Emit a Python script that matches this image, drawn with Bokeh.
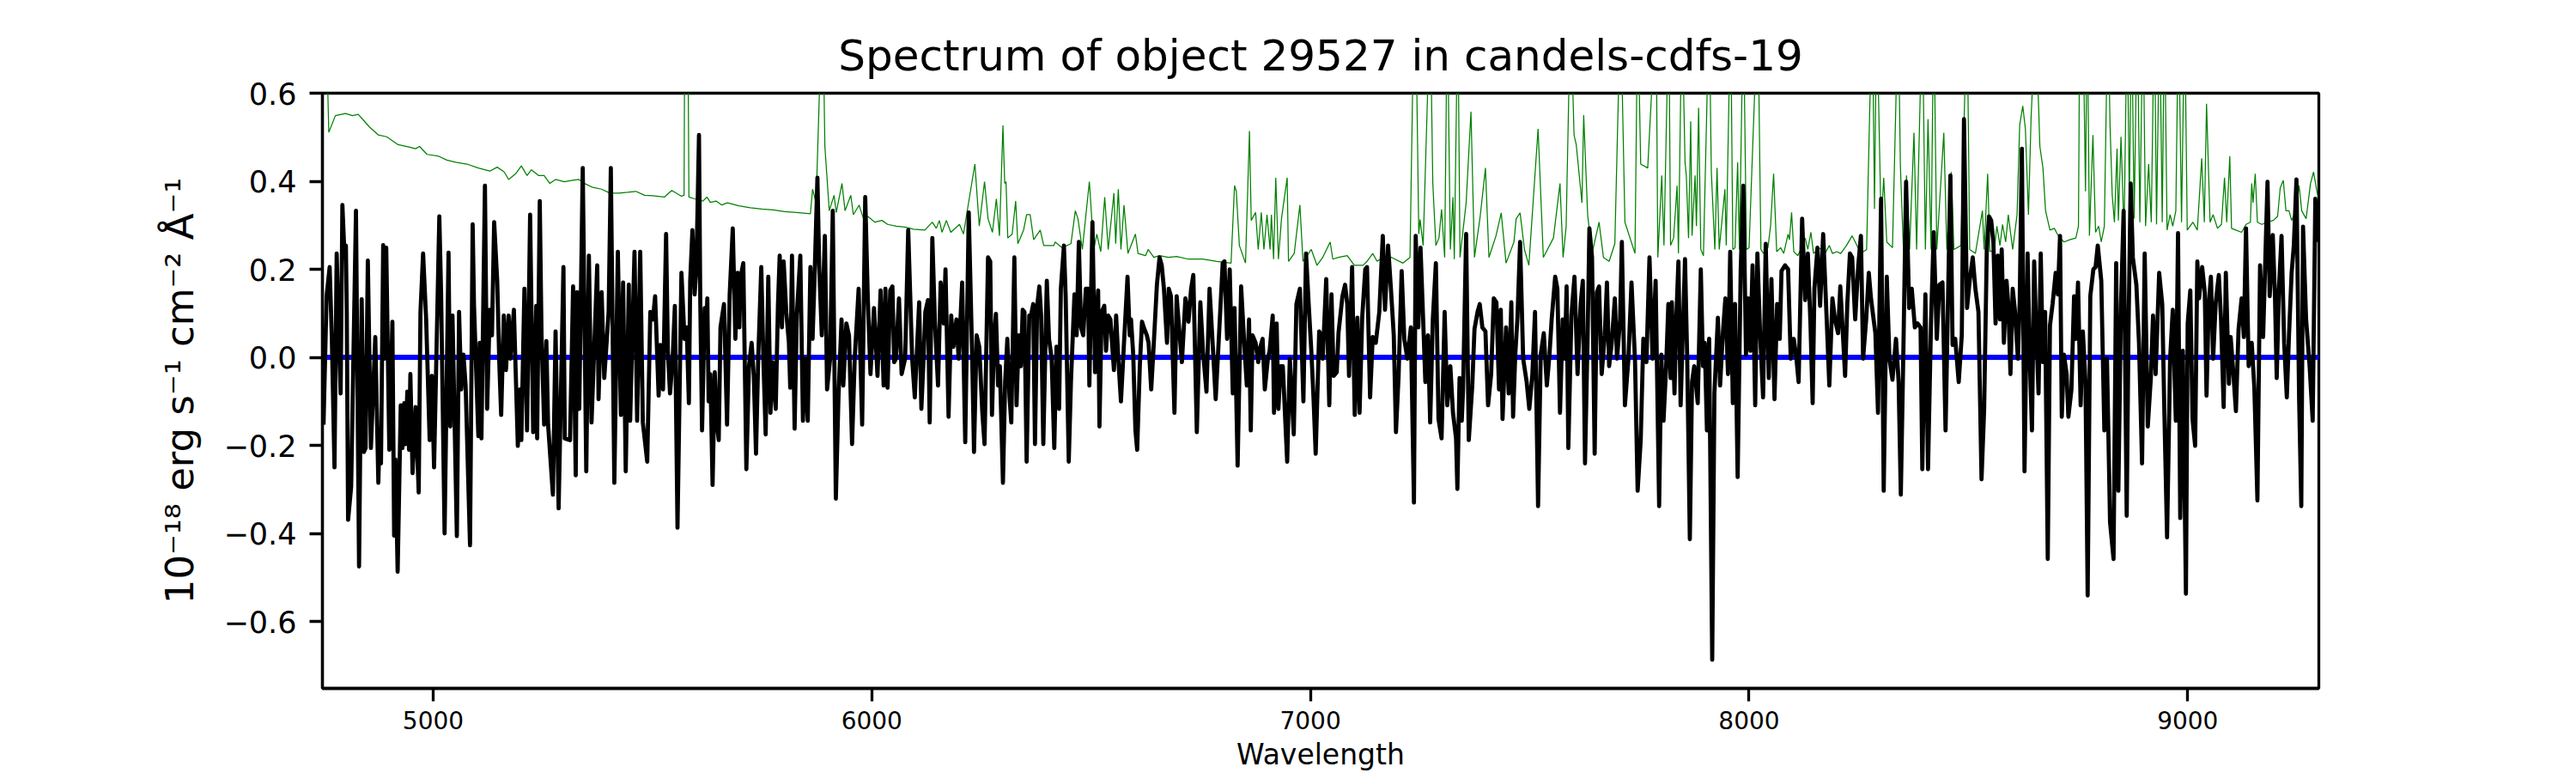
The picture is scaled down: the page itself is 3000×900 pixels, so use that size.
from bokeh.plotting import figure
from bokeh.models import Range1d, FixedTicker, CustomJSTickFormatter
from bokeh.embed import file_html
from bokeh.resources import INLINE

# ---------------- data ----------------
title_text = "Spectrum of object 29527 in candels-cdfs-19"
x_label = "Wavelength"
y_label = "10\u207b\u00b9\u2078 erg s\u207b\u00b9 cm\u207b\u00b2 \u00c5\u207b\u00b9"
x_ticks = [5000, 6000, 7000, 8000, 9000]
y_ticks = [-0.6, -0.4, -0.2, 0.0, 0.2, 0.4, 0.6]
x_limits = [4747.5, 9299.0]
y_limits = [-0.752, 0.6]

# observed flux (black)
flux_wave_1 = [4750,4757,4764,4769,4775,4780,4783,4789,4793,4798,4801,4803,4806,4813,4824,4831,4837,4842,4846,4851,
               4858,4868,4875,4878,4881,4886,4889,4893,4900,4907,4911,4914,4919,4926,4930,4934,4937,4941,4945,4948,
               4953,4960,4967,4971,4977,4984,4992,4997,5002,5014,5018,5026,5035,5039,5044,5050,5054,5059,5064,5069,
               5074,5084,5090,5093,5103,5106,5110,5118,5123,5129,5134,5139,5146,5151,5155,5161,5166,5172,5176,5184,
               5193,5198,5201,5208,5214,5221,5228,5235,5237,5243,5247,5253,5258,5262,5273,5279,5286,5297,5300,5312,
               5319,5325,5328,5333,5341,5349,5355,5361,5374,5377,5384,5390,5400,5405,5413,5421,5428,5433,5439,5446,
               5449,5459,5465,5472,5478,5488,5495]
flux_val_1 = [-0.153,0.139,0.205,0.042,-0.25,0.236,0.121,-0.082,0.346,0.227,0.254,0.103,-0.369,-0.294,0.333,-0.475,0.132,-0.215,-0.206,0.22,
              -0.206,0.046,-0.285,-0.162,-0.241,0.255,-0.003,0.249,-0.21,0.081,-0.405,-0.232,-0.487,-0.109,-0.206,-0.104,-0.197,-0.078,-0.21,-0.038,
              -0.263,-0.113,-0.307,0.103,0.236,0.086,-0.188,-0.042,-0.25,0.32,0.148,-0.40,0.238,-0.157,0.095,-0.206,-0.406,0.103,-0.073,0.006,
              -0.064,-0.427,0.302,0.121,-0.179,0.033,-0.184,0.39,-0.117,0.108,0.05,0.307,0.174,-0.02,-0.131,0.095,-0.029,0.095,-0.003,0.108,
              -0.201,-0.073,-0.188,0.156,-0.166,0.324,-0.17,0.117,-0.184,0.355,0.05,-0.153,0.037,-0.153,-0.312,0.059,-0.343,0.205,-0.184,-0.188,
              0.161,-0.268,0.148,-0.117,0.43,-0.259,0.231,-0.148,0.209,-0.095,0.148,-0.047,0.103,0.43,-0.285,0.24,-0.131,0.17,-0.259,0.165,
              -0.144,0.24,-0.144,0.24,-0.148,-0.237,0.103]
flux_wave_2 = [5501,5506,5511,5514,5518,5524,5531,5535,5540,5546,5551,5557,5566,5573,5578,5583,5586,5591,5596,5600,
               5606,5609,5613,5619,5623,5625,5628,5632,5637,5642,5646,5651,5655,5663,5670,5676,5683,5689,5694,5698,
               5701,5707,5714,5720,5726,5731,5736,5741,5748,5753,5758,5764,5769,5774,5781,5786,5790,5795,5799,5805,
               5811,5814,5818,5824,5829,5837,5843,5848,5854,5860,5865,5870,5876,5880,5886,5893,5898,5905,5911,5918,
               5924,5931,5935,5942,5948,5955,5961,5970,5978,5985,5991,5997,6005,6013,6020,6027,6031,6036,6042,6047,
               6051,6055,6062,6068,6076,6083,6092,6098,6108,6113,6118,6122,6128,6132,6138,6144,6151,6157,6164,6168,
               6175,6181,6186,6193,6198,6206,6213,6221,6229,6233,6239,6245,6252,6257]
flux_val_2 = [0.086,0.139,-0.003,-0.087,0.028,-0.073,0.28,0.015,-0.082,-0.003,0.117,-0.387,0.192,0.042,0.068,-0.104,0.174,0.289,0.143,0.2,
              0.505,0.121,-0.166,0.112,0.077,0.134,-0.1,-0.038,-0.29,-0.034,-0.144,-0.188,0.068,0.121,-0.153,0.143,0.293,0.042,0.192,0.068,
              0.183,0.214,-0.254,-0.02,0.033,-0.042,-0.219,-0.003,0.205,-0.011,-0.175,0.183,-0.126,-0.011,-0.117,0.117,0.231,0.068,0.218,0.103,
              0.033,-0.069,0.231,-0.162,0.095,0.231,-0.144,-0.003,-0.144,0.205,0.042,0.2,0.408,0.209,0.05,0.276,-0.073,-0.003,0.333,-0.321,
              -0.091,0.086,-0.064,0.077,0.05,-0.197,-0.003,0.156,-0.153,0.364,0.13,-0.038,0.112,-0.042,0.152,-0.064,0.156,-0.069,0.152,0.161,
              -0.011,-0.003,0.134,-0.038,-0.003,0.289,-0.003,-0.091,0.125,-0.117,-0.003,0.103,0.13,-0.148,0.271,0.077,-0.064,0.17,0.077,0.2,
              -0.135,0.095,0.024,0.086,-0.003,0.17,-0.193,0.329,-0.003,-0.215,0.05,0.024,-0.126,-0.197]
flux_wave_3 = [6265,6270,6274,6279,6283,6288,6292,6299,6304,6309,6314,6318,6325,6330,6335,6340,6344,6348,6353,6359,
               6363,6368,6372,6377,6382,6386,6391,6399,6404,6410,6416,6421,6427,6431,6438,6442,6449,6454,6462,6467,
               6472,6477,6482,6488,6493,6496,6503,6509,6516,6519,6524,6530,6534,6539,6544,6552,6557,6562,6568,6575,
               6583,6588,6591,6596,6601,6605,6611,6616,6620,6627,6631,6637,6642,6650,6656,6661,6666,6673,6677,6682,
               6690,6695,6699,6707,6715,6722,6728,6733,6741,6749,6755,6763,6770,6778,6784,6792,6800,6804,6810,6816,
               6823,6827,6834,6842,6849,6855,6860,6864,6868,6875,6881,6886,6891,6896,6903,6907,6914,6917,6923,6927,
               6932,6937,6947,6953,6962,6968,6976,6981,6984,6990,6996,7002,7007,7012,7020,7025]
flux_val_3 = [0.227,0.218,-0.131,0.05,0.099,-0.064,-0.02,-0.285,-0.056,0.042,-0.091,-0.148,0.227,-0.109,0.05,-0.02,0.108,0.103,-0.237,0.095,
              0.095,0.121,-0.197,0.117,0.161,0.095,-0.197,0.174,0.042,-0.003,-0.206,0.024,-0.117,0.156,0.254,0.139,-0.237,-0.056,0.143,0.05,
              0.262,0.068,0.05,0.156,0.156,-0.064,0.307,-0.034,0.152,-0.157,0.103,0.117,0.015,0.095,0.086,-0.029,0.095,-0.003,-0.1,0.033,
              0.183,0.05,0.086,0.006,-0.166,-0.21,-0.02,0.081,0.068,0.05,0.033,-0.073,0.015,0.165,0.227,0.209,0.156,0.033,0.156,0.139,
              -0.126,0.139,0.086,-0.011,0.134,0.081,0.156,0.187,-0.17,0.125,0.015,-0.078,0.156,0.015,-0.095,0.059,0.214,0.218,0.042,0.2,
              -0.082,0.112,-0.246,0.161,0.033,-0.064,0.086,-0.166,0.05,0.033,-0.011,0.024,0.042,-0.073,-0.003,0.015,0.095,-0.126,0.077,-0.117,
              -0.02,-0.02,-0.237,-0.003,-0.175,0.121,0.156,-0.003,-0.1,0.236,0.121,0.015,-0.091,-0.219,0.059,0.05]
flux_wave_4 = [7028,7036,7043,7048,7053,7060,7064,7073,7079,7084,7088,7095,7101,7107,7112,7118,7125,7129,7136,7142,
               7149,7157,7165,7170,7177,7184,7190,7195,7201,7208,7214,7221,7229,7236,7240,7246,7251,7257,7262,7268,
               7273,7279,7286,7292,7299,7306,7312,7319,7325,7332,7335,7340,7345,7348,7355,7361,7369,7374,7381,7386,
               7392,7399,7405,7412,7418,7424,7430,7434,7438,7446,7452,7458,7462,7467,7472,7478,7485,7493,7499,7506,
               7512,7519,7525,7532,7539,7545,7550,7558,7563,7569,7575,7580,7584,7588,7595,7602,7609,7616,7621,7626,
               7632,7636,7642,7648,7653,7658,7664,7671,7676,7681,7687,7694,7699,7706,7710,7717,7725,7732,7740,7746,
               7753,7759,7766,7773,7780,7787]
flux_val_4 = [-0.003,0.178,-0.109,0.143,-0.042,-0.034,0.055,0.139,0.165,0.121,-0.042,0.205,-0.131,0.09,-0.126,0.09,0.2,0.205,-0.091,0.046,
              0.033,0.103,0.276,0.108,0.254,0.148,0.05,-0.17,-0.042,0.196,0.042,-0.003,0.068,-0.33,0.276,0.068,0.249,0.086,-0.056,0.05,
              -0.148,0.086,0.214,-0.14,-0.184,0.103,-0.109,-0.02,-0.126,-0.184,-0.299,-0.047,-0.144,-0.073,0.28,-0.188,-0.064,0.064,0.103,0.121,
              0.068,0.059,-0.109,-0.038,0.134,0.125,-0.073,0.108,-0.14,0.068,-0.082,0.125,-0.135,0.006,0.09,0.262,-0.003,-0.056,-0.117,-0.038,
              0.103,-0.338,0.006,0.055,-0.064,0.006,0.086,0.183,0.156,-0.126,0.086,-0.003,0.161,-0.206,0.095,0.183,-0.038,0.121,0.174,-0.241,
              0.05,0.293,0.227,-0.219,0.148,0.161,-0.038,0.05,0.17,-0.02,0.033,0.134,-0.003,0.086,0.262,-0.109,-0.003,0.17,-0.007,-0.303,
              -0.188,0.042,-0.011,0.227,-0.003,0.174]
flux_wave_5 = [7795,7800,7805,7811,7816,7821,7824,7830,7834,7839,7844,7849,7854,7859,7865,7870,7875,7883,7890,7895,
               7899,7904,7909,7916,7921,7929,7934,7940,7946,7952,7957,7963,7968,7974,7981,7987,7993,7998,8003,8008,
               8014,8019,8025,8032,8038,8045,8051,8058,8064,8070,8074,8082,8089,8095,8102,8108,8113,8121,8128,8134,
               8140,8145,8149,8156,8162,8169,8177,8183,8190,8196,8203,8208,8215,8219,8224,8230,8235,8242,8249,8255,
               8260,8267,8273,8278,8284,8288,8294,8301,8307,8314,8320,8327,8335,8341,8346,8352,8358,8365,8371,8378,
               8384,8391,8395,8402,8408,8415,8421,8428,8434,8441,8448,8454,8459,8464,8470,8478,8485,8490,8497,8503,
               8510,8516,8523,8530]
flux_val_5 = [-0.338,0.006,-0.144,-0.02,0.121,-0.047,0.125,-0.082,0.086,0.218,-0.109,0.059,0.223,-0.003,-0.413,-0.056,-0.02,-0.104,0.2,-0.02,
              0.033,-0.166,0.042,-0.687,-0.082,0.09,-0.064,0.05,0.134,-0.038,0.24,-0.104,0.121,-0.272,0.2,0.39,0.006,0.134,0.015,0.209,
              -0.109,0.236,0.059,-0.091,0.258,-0.047,0.178,-0.095,0.121,0.042,0.196,0.209,0.2,-0.003,0.042,-0.003,-0.056,0.315,0.13,0.236,
              0.077,-0.104,0.156,0.249,0.117,0.28,0.086,-0.064,0.134,0.086,0.055,0.161,0.033,-0.042,0.121,0.236,0.227,0.086,0.209,0.276,
              -0.003,0.086,0.192,0.134,0.086,0.055,-0.126,0.36,-0.303,0.183,-0.003,-0.051,0.042,-0.056,-0.312,0.024,0.399,0.112,0.156,0.068,
              0.077,0.068,-0.254,0.143,-0.254,0.086,0.284,0.042,0.165,0.17,-0.166,0.152,0.413,0.028,0.042,-0.056,0.05,0.541,0.112,0.174,
              0.227,0.156,0.103,-0.277]
flux_wave_6 = [8536,8542,8547,8552,8557,8562,8567,8572,8576,8581,8587,8591,8596,8601,8606,8613,8617,8622,8628,8635,
               8640,8645,8650,8654,8660,8665,8670,8675,8681,8686,8692,8699,8704,8709,8713,8718,8724,8728,8735,8741,
               8745,8750,8756,8761,8767,8772,8778,8785,8790,8795,8803,8810,8816,8823,8831,8837,8842,8848,8854,8861,
               8865,8870,8875,8883,8889,8896,8902,8909,8916,8921,8927,8935,8942,8947,8953,8960,8966,8973,8978,8983,
               8989,8996,9000,9006,9011,9017,9022,9026,9033,9039,9043,9048,9053,9058,9064,9071,9076,9082,9087,9094,
               9098,9103,9110,9116,9123,9128,9133,9139,9146,9152,9159,9165,9172,9182,9187,9194,9199,9203,9208,9214,
               9220,9226,9231,9237,9242,9248,9254,9259,9263,9270,9278,9285,9291,9296]
flux_val_6 = [-0.117,0.245,0.32,0.311,0.262,0.077,0.231,0.086,0.245,0.033,0.174,0.121,-0.038,0.156,0.108,-0.003,0.125,0.474,-0.259,0.236,
              -0.003,-0.166,0.218,0.086,-0.082,0.236,-0.011,0.103,-0.458,0.072,0.121,0.192,0.143,0.276,-0.135,0.006,-0.038,-0.135,-0.073,0.139,
              0.042,0.17,-0.109,0.059,-0.056,-0.541,0.139,0.2,0.205,0.254,0.174,-0.166,-0.003,-0.374,-0.458,0.214,-0.303,0.121,0.333,-0.36,
              0.055,0.395,0.227,0.165,0.033,-0.241,0.236,-0.157,-0.047,0.095,-0.038,0.192,0.121,-0.131,-0.409,-0.003,0.108,-0.144,0.282,-0.365,
              0.015,-0.537,0.077,0.152,-0.14,-0.201,0.218,0.134,0.205,0.148,-0.087,0.121,0.183,-0.003,0.125,0.187,0.086,-0.113,0.192,-0.06,
              0.046,-0.02,-0.122,0.064,0.134,0.046,0.293,-0.02,0.033,-0.069,-0.325,0.209,0.046,0.399,0.139,0.278,0.139,-0.047,0.156,0.276,
              0.033,-0.091,0.05,0.192,0.254,0.404,-0.091,-0.338,0.297,0.086,-0.02,-0.144,0.36,0.262]

# noise / sky spectrum (green)
noise_wave_1 = [4755,4762,4777,4800,4816,4829,4839,4855,4865,4875,4894,4920,4940,4960,4969,4986,5012,5031,5051,5077,
                5103,5129,5146,5162,5172,5188,5201,5214,5224,5240,5253,5266,5279,5299,5318,5332,5345,5364,5384,5403,
                5423,5443,5462,5482,5501]
noise_val_1 = [0.8,0.511,0.549,0.554,0.549,0.552,0.541,0.523,0.514,0.505,0.501,0.483,0.479,0.474,0.479,0.461,0.457,0.448,0.443,0.439,
               0.43,0.423,0.432,0.421,0.404,0.417,0.435,0.413,0.426,0.413,0.413,0.395,0.404,0.399,0.402,0.404,0.395,0.386,0.382,0.373,
               0.373,0.375,0.377,0.368,0.367]
noise_wave_2 = [5527,5544,5566,5572,5574,5580,5583,5596,5615,5624,5632,5645,5658,5671,5697,5723,5749,5775,5801,5828,
                5860,5865,5873,5885,5889,5893,5903,5914,5919,5932,5939,5952,5958,5971,5981,5991,6007,6023,6036,6056,
                6076,6095,6121,6138,6147,6154,6160,6170,6180,6200,6209,6235,6245,6257,6265,6275]
noise_val_2 = [0.364,0.379,0.366,0.368,0.9,0.9,0.364,0.36,0.355,0.364,0.352,0.355,0.346,0.351,0.344,0.34,0.337,0.335,0.331,0.329,
               0.326,0.382,0.351,0.75,0.75,0.479,0.333,0.368,0.329,0.395,0.333,0.368,0.324,0.346,0.315,0.32,0.307,0.311,0.302,0.298,
               0.296,0.291,0.289,0.307,0.293,0.311,0.284,0.311,0.284,0.302,0.28,0.439,0.298,0.399,0.315,0.284]
noise_wave_3 = [6284,6291,6299,6303,6306,6310,6320,6328,6333,6346,6353,6361,6369,6384,6392,6415,6418,6434,6454,6464,
                6470,6480,6496,6506,6513,6522,6531,6539,6552,6556,6562,6568,6575,6584,6601,6607,6624,6630,6643,6656,
                6676,6695,6722,6754,6787,6819,6827,6831,6838,6852,6861,6865,6875,6881,6888,6894,6901,6908,6911,6916,
                6921,6927,6934,6947,6950,6963,6976,6983,7002,7015,7028]
noise_val_3 = [0.36,0.276,0.527,0.395,0.399,0.271,0.28,0.355,0.258,0.289,0.324,0.324,0.267,0.289,0.254,0.254,0.262,0.249,0.258,0.333,
               0.315,0.245,0.399,0.245,0.28,0.24,0.364,0.245,0.373,0.258,0.382,0.245,0.346,0.236,0.28,0.236,0.231,0.245,0.227,0.231,
               0.227,0.229,0.223,0.223,0.218,0.214,0.39,0.377,0.254,0.214,0.514,0.311,0.329,0.245,0.329,0.245,0.324,0.245,0.324,0.223,
               0.408,0.223,0.315,0.408,0.218,0.236,0.346,0.218,0.245,0.209,0.227]
noise_wave_4 = [7045,7051,7064,7084,7100,7120,7129,7142,7152,7165,7185,7211,7227,7236,7240,7247,7250,7257,7273,7279,
                7286,7293,7299,7306,7312,7319,7325,7328,7336,7341,7355,7366,7374,7387,7399,7407,7423,7435,7446,7464,
                7469,7478,7488,7498,7519,7531,7554,7569,7576,7583,7593,7601,7606,7619,7623,7632,7642,7658,7668,7681,
                7694,7707,7717,7740,7746,7753,7769,7788]
noise_val_4 = [0.262,0.223,0.227,0.231,0.209,0.209,0.218,0.236,0.218,0.227,0.227,0.214,0.227,0.8,0.8,0.28,0.313,0.254,0.8,0.395,
               0.254,0.271,0.336,0.227,0.8,0.245,0.364,0.223,0.8,0.227,0.351,0.558,0.227,0.32,0.43,0.227,0.276,0.328,0.214,0.262,
               0.315,0.328,0.245,0.209,0.519,0.227,0.271,0.395,0.227,0.297,0.8,0.505,0.483,0.351,0.55,0.324,0.236,0.307,0.227,0.218,
               0.258,0.8,0.307,0.236,0.8,0.439,0.43,0.8]
noise_wave_5 = [7792,7801,7806,7817,7821,7828,7836,7839,7847,7854,7857,7862,7867,7870,7877,7880,7885,7890,7896,7909,
                7914,7922,7927,7932,7945,7948,7958,7963,7968,7974,7978,7987,7994,8000,8020,8027,8033,8043,8049,8056,
                8063,8072,8079,8089,8092,8097,8102,8111,8118,8128,8134,8141,8147,8157,8167,8173,8183,8190,8200,8209,
                8222,8235,8242,8255,8268,8275,8281,8286,8291,8301,8307,8314,8327,8340,8345,8352,8359,8366,8376,8382,
                8395,8402,8408,8415,8421,8428,8444,8451,8461,8467,8483,8497,8503,8516,8532,8536]
noise_val_5 = [0.227,0.413,0.254,0.8,0.254,0.271,0.39,0.236,0.8,0.443,0.413,0.271,0.536,0.276,0.413,0.298,0.567,0.245,0.231,0.8,
               0.421,0.245,0.43,0.245,0.382,0.254,0.8,0.245,0.249,0.443,0.245,0.8,0.245,0.249,0.8,0.245,0.236,0.249,0.298,0.417,
               0.24,0.249,0.236,0.28,0.267,0.329,0.24,0.231,0.245,0.271,0.245,0.284,0.236,0.245,0.249,0.236,0.254,0.236,0.24,0.236,
               0.254,0.276,0.262,0.236,0.245,0.558,0.8,0.337,0.8,0.302,0.408,0.262,0.249,0.8,0.435,0.245,0.413,0.245,0.51,0.245,
               0.8,0.245,0.541,0.245,0.8,0.245,0.51,0.245,0.421,0.245,0.254,0.8,0.245,0.236,0.333,0.245]
noise_wave_6 = [8544,8549,8559,8565,8572,8578,8585,8591,8601,8611,8617,8624,8630,8637,8643,8650,8656,8663,8670,8676,
                8686,8696,8705,8718,8731,8745,8751,8754,8761,8767,8771,8776,8784,8790,8797,8803,8810,8818,8823,8828,
                8833,8839,8842,8848,8855,8862,8867,8872,8878,8885,8891,8898,8904,8911,8917,8924,8929,8936,8942,8947,
                8953,8960,8966,8973,8979,8986,8993,8999,9012,9022,9032,9038,9043,9051,9058,9068,9077,9084,9089,9096,
                9100,9110,9123,9133,9143,9146,9149,9154,9159,9169,9182,9195,9205,9211,9218,9224,9231,9237,9247,9254,
                9260,9270,9280,9287,9293,9296]
noise_val_6 = [0.417,0.24,0.245,0.298,0.254,0.302,0.262,0.324,0.245,0.324,0.527,0.571,0.519,0.324,0.545,0.7,0.7,0.479,0.43,0.333,
               0.289,0.293,0.276,0.262,0.267,0.271,0.298,0.8,0.8,0.377,0.8,0.276,0.505,0.284,0.298,0.262,0.298,0.8,0.527,0.368,
               0.307,0.474,0.311,0.501,0.28,0.8,0.342,0.8,0.315,0.8,0.307,0.8,0.298,0.439,0.307,0.8,0.302,0.8,0.307,0.8,
               0.289,0.324,0.298,0.333,0.8,0.307,0.8,0.289,0.307,0.289,0.452,0.307,0.576,0.307,0.324,0.293,0.302,0.408,0.307,0.457,
               0.293,0.289,0.284,0.302,0.307,0.395,0.351,0.417,0.307,0.302,0.307,0.311,0.32,0.385,0.402,0.333,0.333,0.311,0.333,0.39,
               0.333,0.315,0.395,0.421,0.386,0.369]

# model (blue)
model_wave = [4749, 9299]
model_val = [0.0, 0.0]

flux_wave = flux_wave_1 + flux_wave_2 + flux_wave_3 + flux_wave_4 + flux_wave_5 + flux_wave_6
flux_val = flux_val_1 + flux_val_2 + flux_val_3 + flux_val_4 + flux_val_5 + flux_val_6
noise_wave = noise_wave_1 + noise_wave_2 + noise_wave_3 + noise_wave_4 + noise_wave_5 + noise_wave_6
noise_val = noise_val_1 + noise_val_2 + noise_val_3 + noise_val_4 + noise_val_5 + noise_val_6

# ---------------- figure ----------------
FONT = "DejaVu Sans"
p = figure(width=3000, height=900, output_backend="svg", toolbar_location=None,
           x_range=Range1d(*x_limits), y_range=Range1d(*y_limits),
           min_border_left=375, min_border_right=300, min_border_top=108, min_border_bottom=99,
           title=title_text)
p.background_fill_color = "white"
p.border_fill_color = "white"
p.outline_line_color = "black"
p.outline_line_width = 3.3
p.xgrid.visible = False
p.ygrid.visible = False

p.title.text_font = FONT
p.title.text_font_size = "50px"
p.title.text_font_style = "normal"
p.title.align = "center"
p.title.text_color = "black"
p.title.standoff = 30

p.line(noise_wave, noise_val, line_color="#008000", line_width=1.25)
p.line(model_wave, model_val, line_color="#0000ff", line_width=6)
p.line(flux_wave, flux_val, line_color="black", line_width=4.8, line_join="round")

xa = p.xaxis[0]
xa.ticker = FixedTicker(ticks=x_ticks, minor_ticks=[])
xa.axis_label = x_label
xa.axis_label_text_font = FONT
xa.axis_label_text_font_size = "33px"
xa.axis_label_text_font_style = "normal"
xa.axis_label_standoff = 7
xa.major_label_text_font = FONT
xa.major_label_text_font_size = "28px"
xa.major_label_standoff = 11

ya = p.yaxis[0]
ya.ticker = FixedTicker(ticks=y_ticks, minor_ticks=[])
ya.formatter = CustomJSTickFormatter(code="return tick.toFixed(1).replace('-', '\u2212');")
ya.axis_label = y_label
ya.axis_label_text_font = FONT
ya.axis_label_text_font_size = "45px"
ya.axis_label_text_font_style = "normal"
ya.axis_label_standoff = 22
ya.major_label_text_font = FONT
ya.major_label_text_font_size = "35px"
ya.major_label_standoff = 15

for ax in (xa, ya):
    ax.axis_line_color = "black"
    ax.axis_line_width = 3.3
    ax.major_tick_line_color = "black"
    ax.major_tick_line_width = 3.3
    ax.major_tick_out = 15
    ax.major_tick_in = 0
    ax.minor_tick_out = 0
    ax.minor_tick_in = 0
    ax.major_label_text_color = "black"
    ax.axis_label_text_color = "black"

open("out.html", "w").write(file_html(p, INLINE))
